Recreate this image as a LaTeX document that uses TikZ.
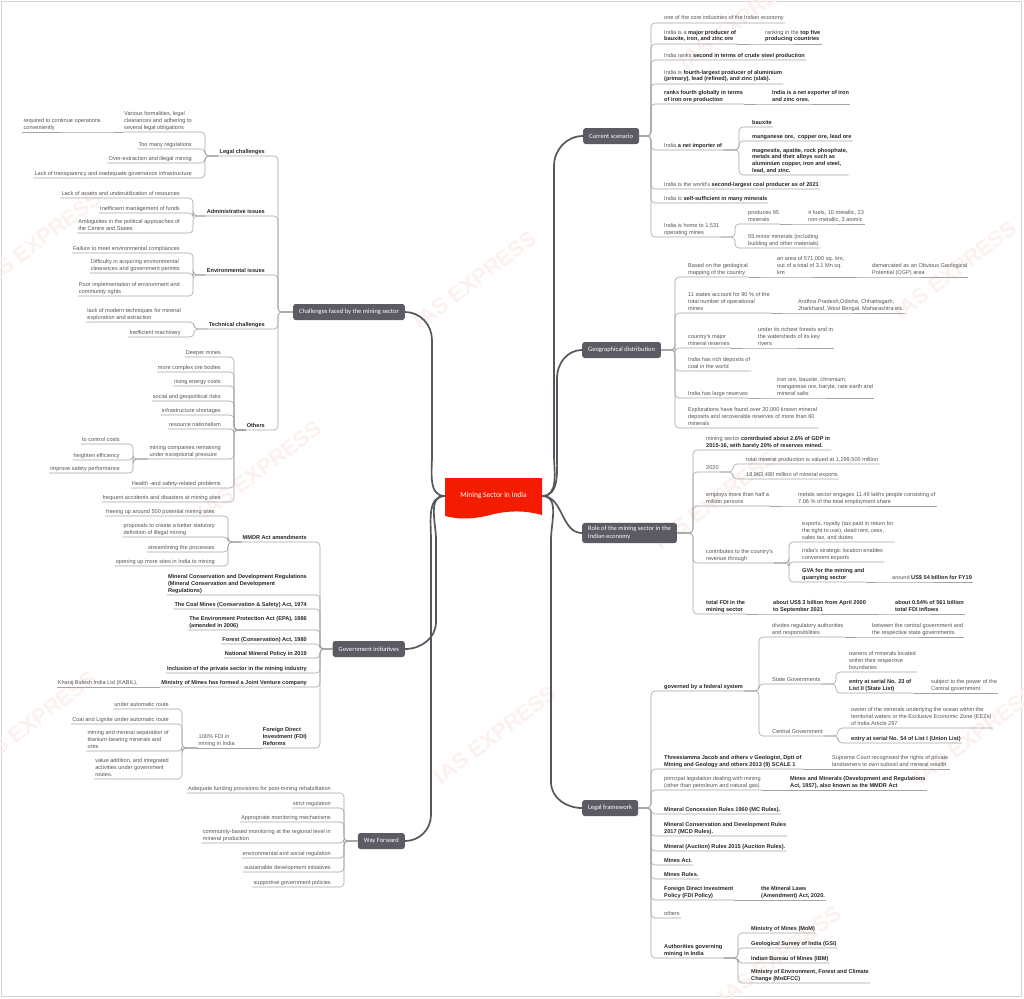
\documentclass[tikz,border=0pt]{standalone}
\usepackage{fontspec}
\setmainfont{Liberation Sans}
\newfontfamily\calfont{Carlito}
\usetikzlibrary{calc}
\definecolor{Root}{HTML}{F41C00}
\definecolor{Branch}{HTML}{5B5B63}
\definecolor{Trunk}{HTML}{56565E}
\definecolor{Link}{HTML}{A4A4A4}
\definecolor{Leaf}{HTML}{555555}
\definecolor{Mark}{HTML}{FDF1EF}
\definecolor{Frame}{HTML}{D2D2D2}
\newcommand\bt[1]{{\bfseries\color{black!85}#1}}
\newcommand\rlink[2]{\draw[link] (#1) -| ([xshift=-12pt]#2.south west) -- (#2.south east);}
\newcommand\llink[2]{\draw[link] (#1) -| ([xshift=12pt]#2.south east) -- (#2.south west);}
\newcommand\rchain[2]{\draw[link] (#1.south east) -- (#2.south west) -- (#2.south east);}
\newcommand\lchain[2]{\draw[link] (#1.south west) -- (#2.south east) -- (#2.south west);}
\begin{document}
\begin{tikzpicture}[x=1pt,y=-1pt,
 leaf/.style={font=\fontsize{5.6}{6.6}\selectfont,text=Leaf,align=left,inner xsep=1pt,inner ysep=1.6pt,text depth=1.2pt},
 rleaf/.style={leaf,anchor=south west},
 lleaf/.style={leaf,anchor=south east},
 branch/.style={fill=Branch,text=white,rounded corners=2.5pt,font=\calfont\fontsize{6.5}{7.8}\selectfont,inner xsep=6pt,minimum height=16pt,align=left},
 link/.style={draw=Link,line width=0.6pt,rounded corners=4pt},
 trunk/.style={draw=Trunk,line width=1.7pt},
 stamp/.style={text=Mark,font=\bfseries\fontsize{22}{22}\selectfont,rotate=37}]
\useasboundingbox (0,0) rectangle (1024,998);
\draw[Frame,line width=0.8pt] (1,1) rectangle (1021,996);
\foreach \p in {(475,280),(715,500),(495,735),(260,470),(40,240),(35,720),(955,270),(975,735),(780,955),(740,20)}
 \node[stamp] at \p {IAS EXPRESS};

% central topic and main branches
\fill[Root] (445,478) -- (542,478) -- (542,515) .. controls (528,511) and (512,510) .. (494,514)
 .. controls (476,519) and (460,520) .. (445,516) -- cycle;
\node[text=white,font=\calfont\fontsize{7.5}{9}\selectfont,minimum width=97pt,minimum height=38pt,inner sep=0pt] (root) at (493.5,496) {Mining Sector in India};
\node[branch,anchor=west] (cur) at (583,136) {Current scenario};
\node[branch,anchor=west] (geo) at (582,350) {Geographical distribution};
\node[branch,anchor=west] (role) at (582,533) {Role of the mining sector in the\\Indian economy};
\node[branch,anchor=west] (legal) at (582,808) {Legal framework};
\node[branch,anchor=east] (chal) at (405,312) {Challenges faced by the mining sector};
\node[branch,anchor=east] (gov) at (405,649) {Government initiatives};
\node[branch,anchor=east] (way) at (405,841) {Way Forward};

\draw[trunk] (root.east) to[out=0,in=-90] (554,455) -- (554,166) to[out=90,in=180] (cur.west);
\draw[trunk] (root.east) to[out=0,in=-90] (557,455) -- (557,378) to[out=90,in=180] (geo.west);
\draw[trunk] (root.east) to[out=0,in=180] (role.west);
\draw[trunk] (root.east) to[out=0,in=90] (551,540) -- (551,782) to[out=-90,in=180] (legal.west);
\draw[trunk] (root.west) to[out=180,in=-90] (432,455) -- (432,340) to[out=90,in=0] (chal.east);
\draw[trunk] (root.west) to[out=180,in=90] (436,540) -- (436,622) to[out=-90,in=0] (gov.east);
\draw[trunk] (root.west) to[out=180,in=90] (431,540) -- (431,815) to[out=-90,in=0] (way.east);

% Current scenario
\node[rleaf] (c1) at (663,23) {one of the core industries of the Indian economy};
\node[rleaf] (c2) at (663,44) {India is a \bt{major producer of}\\\bt{bauxite, iron, and zinc ore}};
\node[rleaf] (c2a) at (764,44) {ranking in the \bt{top five}\\\bt{producing countries}};
\node[rleaf] (c3) at (663,60) {India ranks \bt{second in terms of crude steel production}};
\node[rleaf] (c4) at (663,84) {India is \bt{fourth-largest producer of aluminium}\\\bt{(primary), lead (refined), and zinc (slab).}};
\node[rleaf] (c5) at (663,104) {\bt{ranks fourth globally in terms}\\\bt{of iron ore production}};
\node[rleaf] (c5a) at (771,104) {\bt{India is a net exporter of iron}\\\bt{and zinc ores.}};
\node[rleaf] (c6) at (663,150) {India \bt{a net importer of}};
\node[rleaf] (c6a) at (751,127) {\bt{bauxite}};
\node[rleaf] (c6b) at (751,141) {\bt{manganese ore,\ \ copper ore, lead ore}};
\node[rleaf] (c6c) at (751,175) {\bt{magnesite, apatite, rock phosphate,}\\\bt{metals and their alloys such as}\\\bt{aluminium copper, iron and steel,}\\\bt{lead, and zinc.}};
\node[rleaf] (c7) at (663,189) {India is the world's \bt{second-largest coal producer as of 2021}};
\node[rleaf] (c8) at (663,203) {India is \bt{self-sufficient in many minerals}};
\node[rleaf] (c9) at (663,237) {India is home to 1,531\\operating mines};
\node[rleaf] (c9a) at (747,224) {produces 95\\minerals};
\node[rleaf] (c9a1) at (807,224) {4 fuels, 10 metallic, 23\\non-metallic, 3 atomic};
\node[rleaf] (c9b) at (747,248) {55 minor minerals (including\\building and other materials)};
\foreach \c in {c1,c2,c3,c4,c5,c6,c7,c8,c9} {\rlink{cur.east}{\c}}
\foreach \c in {c6a,c6b,c6c} {\rlink{c6.south east}{\c}}
\foreach \c in {c9a,c9b} {\rlink{c9.south east}{\c}}
\rchain{c2}{c2a} \rchain{c5}{c5a} \rchain{c9a}{c9a1}

% Geographical distribution
\node[rleaf] (g1) at (687,277) {Based on the geological\\mapping of the country};
\node[rleaf] (g1a) at (776,277) {an area of 571,000 sq. km,\\out of a total of 3.1 Mn sq.\\km};
\node[rleaf] (g1b) at (871,277) {demarcated as an Obvious Geological\\Potential (OGP) area};
\node[rleaf] (g2) at (687,313) {11 states account for 90 \% of the\\total number of operational\\mines};
\node[rleaf] (g2a) at (797,313) {Andhra Pradesh,Odisha, Chhattisgarh,\\Jharkhand, West Bengal, Maharashtra etc.};
\node[rleaf] (g3) at (687,348) {country's major\\mineral reserves};
\node[rleaf] (g3a) at (757,348) {under its richest forests and in\\the watersheds of its key\\rivers};
\node[rleaf] (g4) at (687,371) {India has rich deposits of\\coal in the world};
\node[rleaf] (g5) at (687,398) {India has large reserves};
\node[rleaf] (g5a) at (776,398) {iron ore, bauxite, chromium,\\manganese ore, baryte, rare earth and\\mineral salts};
\node[rleaf] (g6) at (687,428) {Explorations have found over 20,000 known mineral\\deposits and recoverable reserves of more than 60\\minerals};
\foreach \c in {g1,g2,g3,g4,g5,g6} {\rlink{geo.east}{\c}}
\rchain{g1}{g1a} \rchain{g1a}{g1b} \rchain{g2}{g2a} \rchain{g3}{g3a} \rchain{g5}{g5a}

% Role of the mining sector
\node[rleaf] (r1) at (705,450) {mining sector \bt{contributed about 2.6\% of GDP in}\\\bt{2015-16, with barely 20\% of reserves mined.}};
\node[rleaf] (r2) at (705,472) {2020};
\node[rleaf] (r2a) at (745,464) {total mineral production is valued at 1,299,500 million};
\node[rleaf] (r2b) at (745,479) {18,963,480 million of mineral exports};
\node[rleaf] (r3) at (705,506) {employs more than half a\\million persons};
\node[rleaf] (r3a) at (797,506) {metals sector engages 11.49 lakhs people consisting of\\7.06 \% of the total employment share};
\node[rleaf] (r4) at (705,563) {contributes to the country's\\revenue through};
\node[rleaf] (r4a) at (801,542) {exports, royalty (tax paid in return for\\the right to use), dead rent, cess,\\sales tax, and duties};
\node[rleaf] (r4b) at (801,562) {India's strategic location enables\\convenient exports};
\node[rleaf] (r4c) at (801,582) {\bt{GVA for the mining and}\\\bt{quarrying sector}};
\node[rleaf] (r4c1) at (891,582) {around \bt{US\$ 54 billion for FY19}};
\node[rleaf] (r5) at (705,614) {\bt{total FDI in the}\\\bt{mining sector}};
\node[rleaf] (r5a) at (772,614) {\bt{about US\$ 3 billion from April 2000}\\\bt{to September 2021}};
\node[rleaf] (r5b) at (894,614) {\bt{about 0.54\% of 561 billion}\\\bt{total FDI inflows}};
\foreach \c in {r1,r2,r3,r4,r5} {\rlink{role.east}{\c}}
\foreach \c in {r2a,r2b} {\rlink{r2.south east}{\c}}
\foreach \c in {r4a,r4b,r4c} {\rlink{r4.south east}{\c}}
\rchain{r3}{r3a} \rchain{r4c}{r4c1} \rchain{r5}{r5a} \rchain{r5a}{r5b}

% Legal framework
\node[rleaf] (l1) at (663,691) {\bt{governed by a federal system}};
\node[rleaf] (l1a) at (771,637) {divides regulatory authorities\\and responsibilities};
\node[rleaf] (l1a1) at (871,637) {between the central government and\\the respective state governments};
\node[rleaf] (l1b) at (771,684) {State Governments};
\node[rleaf] (l1b1) at (848,672) {owners of minerals located\\within their respective\\boundaries};
\node[rleaf] (l1b2) at (848,693) {\bt{entry at serial No. 23 of}\\\bt{List II (State List)}};
\node[rleaf] (l1b3) at (930,693) {subject to the power of the\\Central government};
\node[rleaf] (l1c) at (771,736) {Central Government};
\node[rleaf] (l1c1) at (850,728) {owner of the minerals underlying the ocean within the\\territorial waters or the Exclusive Economic Zone (EEZs)\\of India Article 297};
\node[rleaf] (l1c2) at (850,743) {\bt{entry at serial No. 54 of List I (Union List)}};
\node[rleaf] (l2) at (663,769) {\bt{Threesiamma Jacob and others v Geologist, Dptt of}\\\bt{Mining and Geology and others 2013 (9) SCALE 1}};
\node[rleaf] (l2a) at (831,769) {Supreme Court recognised the rights of private\\landowners to own subsoil and mineral wealth.};
\node[rleaf] (l3) at (663,790) {principal legislation dealing with mining\\(other than petroleum and natural gas)};
\node[rleaf] (l3a) at (789,790) {\bt{Mines and Minerals (Development and Regulations}\\\bt{Act, 1957), also known as the MMDR Act}};
\node[rleaf] (l4) at (663,814) {\bt{Mineral Concession Rules 1960 (MC Rules).}};
\node[rleaf] (l5) at (663,836) {\bt{Mineral Conservation and Development Rules}\\\bt{2017 (MCD Rules).}};
\node[rleaf] (l6) at (663,851) {\bt{Mineral (Auction) Rules 2015 (Auction Rules).}};
\node[rleaf] (l7) at (663,865) {\bt{Mines Act.}};
\node[rleaf] (l8) at (663,879) {\bt{Mines Rules.}};
\node[rleaf] (l9) at (663,900) {\bt{Foreign Direct Investment}\\\bt{Policy (FDI Policy)}};
\node[rleaf] (l9a) at (760,900) {\bt{the Mineral Laws}\\\bt{(Amendment) Act, 2020.}};
\node[rleaf] (l10) at (663,918) {others};
\node[rleaf] (l11) at (663,958) {\bt{Authorities governing}\\\bt{mining in India}};
\node[rleaf] (l11a) at (750,933) {\bt{Ministry of Mines (MoM)}};
\node[rleaf] (l11b) at (750,948) {\bt{Geological Survey of India (GSI)}};
\node[rleaf] (l11c) at (750,963) {\bt{Indian Bureau of Mines (IBM)}};
\node[rleaf] (l11d) at (750,983) {\bt{Ministry of Environment, Forest and Climate}\\\bt{Change (MoEFCC)}};
\foreach \c in {l1,l2,l3,l4,l5,l6,l7,l8,l9,l10,l11} {\rlink{legal.east}{\c}}
\foreach \c in {l1a,l1b,l1c} {\rlink{l1.south east}{\c}}
\foreach \c in {l1b1,l1b2} {\rlink{l1b.south east}{\c}}
\foreach \c in {l1c1,l1c2} {\rlink{l1c.south east}{\c}}
\foreach \c in {l11a,l11b,l11c,l11d} {\rlink{l11.south east}{\c}}
\rchain{l1a}{l1a1} \rchain{l1b2}{l1b3} \rchain{l2}{l2a} \rchain{l3}{l3a} \rchain{l9}{l9a}

% Challenges faced by the mining sector
\node[lleaf] (x1) at (266,156) {\bt{Legal challenges}};
\node[lleaf] (x1a) at (193,132) {Various formalities, legal\\clearances and adhering to\\several legal obligations};
\node[lleaf] (x1a1) at (102,132) {required to continue operations\\conveniently};
\node[lleaf] (x1b) at (193,149) {Too many regulations};
\node[lleaf] (x1c) at (193,163) {Over-extraction and illegal mining};
\node[lleaf] (x1d) at (193,178) {Lack of transparency and inadequate governance infrastructure};
\node[lleaf] (x2) at (266,216) {\bt{Administrative issues}};
\node[lleaf] (x2a) at (181,198) {Lack of assets and underutilization of resources};
\node[lleaf] (x2b) at (181,213) {Inefficient management of funds};
\node[lleaf] (x2c) at (181,233) {Ambiguities in the political approaches of\\the Centre and States};
\node[lleaf] (x3) at (266,275) {\bt{Environmental issues}};
\node[lleaf] (x3a) at (181,253) {Failure to meet environmental compliances};
\node[lleaf] (x3b) at (181,273) {Difficulty in acquiring environmental\\clearances and government permits};
\node[lleaf] (x3c) at (181,296) {Poor implementation of environment and\\community rights};
\node[lleaf] (x4) at (266,329) {\bt{Technical challenges}};
\node[lleaf] (x4a) at (182,322) {lack of modern techniques for mineral\\exploration and extraction};
\node[lleaf] (x4b) at (182,337) {Inefficient machinery};
\node[lleaf] (x5) at (266,430) {\bt{Others}};
\node[lleaf] (x5a) at (222,357) {Deeper mines};
\node[lleaf] (x5b) at (222,372) {more complex ore bodies};
\node[lleaf] (x5c) at (222,386) {rising energy costs};
\node[lleaf] (x5d) at (222,401) {social and geopolitical risks};
\node[lleaf] (x5e) at (222,415) {infrastructure shortages};
\node[lleaf] (x5f) at (222,429) {resource nationalism};
\node[lleaf] (x5g) at (222,459) {mining companies remaining\\under exceptional pressure};
\node[lleaf] (x5g1) at (121,444) {to control costs};
\node[lleaf] (x5g2) at (121,460) {heighten efficiency};
\node[lleaf] (x5g3) at (121,473) {improve safety performance};
\node[lleaf] (x5h) at (222,488) {Health -and safety-related problems};
\node[lleaf] (x5i) at (222,502) {frequent accidents and disasters at mining sites};
\foreach \c in {x1,x2,x3,x4,x5} {\llink{chal.west}{\c}}
\foreach \c in {x1a,x1b,x1c,x1d} {\llink{x1.south west}{\c}}
\foreach \c in {x2a,x2b,x2c} {\llink{x2.south west}{\c}}
\foreach \c in {x3a,x3b,x3c} {\llink{x3.south west}{\c}}
\foreach \c in {x4a,x4b} {\llink{x4.south west}{\c}}
\foreach \c in {x5a,x5b,x5c,x5d,x5e,x5f,x5g,x5h,x5i} {\llink{x5.south west}{\c}}
\foreach \c in {x5g1,x5g2,x5g3} {\llink{x5g.south west}{\c}}
\lchain{x1a}{x1a1}

% Government initiatives
\node[lleaf] (v1) at (308,542) {\bt{MMDR Act amendments}};
\node[lleaf] (v1a) at (216,516) {freeing up around 500 potential mining sites};
\node[lleaf] (v1b) at (216,537) {proposals to create a better statutory\\definition of illegal mining};
\node[lleaf] (v1c) at (216,552) {streamlining the processes};
\node[lleaf] (v1d) at (216,566) {opening up more sites in India to mining};
\node[lleaf] (v2) at (308,595) {\bt{Mineral Conservation and Development Regulations}\\\bt{(Mineral Conservation and Development}\\\bt{Regulations)}};
\node[lleaf] (v3) at (308,609) {\bt{The Coal Mines (Conservation \& Safety) Act, 1974}};
\node[lleaf] (v4) at (308,630) {\bt{The Environment Protection Act (EPA), 1986}\\\bt{(amended in 2006)}};
\node[lleaf] (v5) at (308,644) {\bt{Forest (Conservation) Act, 1980}};
\node[lleaf] (v6) at (308,658) {\bt{National Mineral Policy in 2019}};
\node[lleaf] (v7) at (308,673) {\bt{Inclusion of the private sector in the mining industry}};
\node[lleaf] (v8) at (308,687) {\bt{Ministry of Mines has formed a Joint Venture company}};
\node[lleaf] (v8a) at (139,687) {Khanij Bidesh India Ltd (KABIL),};
\node[lleaf] (v9) at (308,748) {\bt{Foreign Direct}\\\bt{Investment (FDI)}\\\bt{Reforms}};
\node[lleaf] (v9a) at (236,748) {100\% FDI in\\mining in India};
\node[lleaf] (v9a1) at (170,709) {under automatic route};
\node[lleaf] (v9a2) at (170,724) {Coal and Lignite under automatic route};
\node[lleaf] (v9a3) at (170,751) {mining and mineral separation of\\titanium-bearing minerals and\\ores};
\node[lleaf] (v9a4) at (170,779) {value addition, and integrated\\activities under government\\routes.};
\foreach \c in {v1,v2,v3,v4,v5,v6,v7,v8,v9} {\llink{gov.west}{\c}}
\foreach \c in {v1a,v1b,v1c,v1d} {\llink{v1.south west}{\c}}
\foreach \c in {v9a1,v9a2,v9a3,v9a4} {\llink{v9a.south west}{\c}}
\lchain{v8}{v8a} \lchain{v9}{v9a}

% Way Forward
\node[lleaf] (w1) at (332,793) {Adequate funding provisions for post-mining rehabilitation};
\node[lleaf] (w2) at (332,808) {strict regulation};
\node[lleaf] (w3) at (332,822) {Appropriate monitoring mechanisms};
\node[lleaf] (w4) at (332,843) {community-based monitoring at the regional level in\\mineral production};
\node[lleaf] (w5) at (332,858) {environmental and social regulation};
\node[lleaf] (w6) at (332,872) {sustainable development initiatives};
\node[lleaf] (w7) at (332,887) {supportive government policies};
\foreach \c in {w1,w2,w3,w4,w5,w6,w7} {\llink{way.west}{\c}}
\end{tikzpicture}
\end{document}
